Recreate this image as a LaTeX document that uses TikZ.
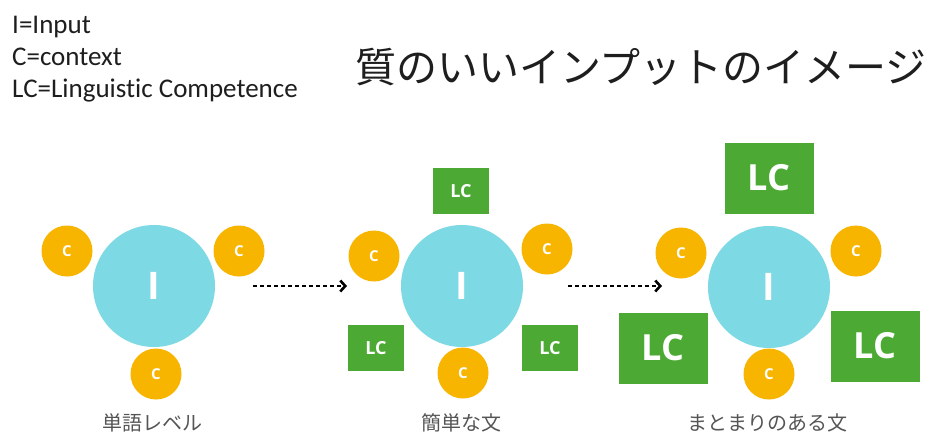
\documentclass[tikz,border=0pt]{standalone}
\usepackage{fontspec}
\setmainfont{Carlito}[Ligatures=NoCommon]
\newfontfamily\jpfont{Noto Sans CJK JP}
\newfontfamily\osans{Open Sans}
\usetikzlibrary{arrows.meta}
\definecolor{incyan}{HTML}{7DD9E4}
\definecolor{corange}{HTML}{F8B500}
\definecolor{lcgreen}{HTML}{4CAA34}
\definecolor{legendtxt}{HTML}{1E1E1E}
\definecolor{labgray}{HTML}{555555}
\tikzset{
  inputcirc/.style={circle, fill=incyan, minimum size=122pt, inner sep=0pt, text=white, font=\osans\bfseries\fontsize{38}{38}\selectfont},
  ctxcirc/.style={circle, fill=corange, minimum size=51pt, inner sep=0pt, text=white, font=\osans\bfseries\fontsize{15}{15}\selectfont},
  lcsmall/.style={rectangle, fill=lcgreen, minimum width=56pt, minimum height=46pt, inner sep=0pt, text=white, font=\osans\bfseries\fontsize{18}{18}\selectfont},
  lcbig/.style={rectangle, fill=lcgreen, minimum width=89pt, minimum height=71pt, inner sep=0pt, text=white, font=\osans\bfseries\fontsize{36}{36}\selectfont},
  legend/.style={anchor=base west, inner sep=0pt, text=legendtxt, font=\fontsize{27}{27}\selectfont},
  steplabel/.style={inner sep=0pt, text=labgray, font=\jpfont\fontsize{20}{20}\selectfont},
  flowarrow/.style={line width=2.8pt, dash pattern=on 3.5pt off 3.5pt, -{Straight Barb[length=5pt,width=11pt,line width=2.6pt]}}
}
\begin{document}
\begin{tikzpicture}[x=1pt,y=-1pt]
\path[use as bounding box, fill=white] (0,0) rectangle (934,434);

% legend
\node[legend] (legI) at (12,33) {I=Input};
\node[legend] (legC) at (12,65) {C=context};
\node[legend] (legLC) at (12,97) {LC=Linguistic Competence};

% title
\node[inner sep=0pt, text=legendtxt, font=\jpfont\fontsize{41}{41}\selectfont] (title) at (641,67) {質のいいインプットのイメージ};

% panel 1
\node[inputcirc] (i1) at (154,286) {I};
\node[ctxcirc] (c1a) at (67,251) {C};
\node[ctxcirc] (c1b) at (239,251) {C};
\node[ctxcirc] (c1c) at (156,374) {C};
\node[steplabel] (lab1) at (152,423) {単語レベル};

% panel 2
\node[inputcirc] (i2) at (462,286) {I};
\node[lcsmall] (lc2t) at (461,191) {LC};
\node[ctxcirc] (c2a) at (374,256) {C};
\node[ctxcirc] (c2b) at (547,249) {C};
\node[ctxcirc] (c2c) at (463,373) {C};
\node[lcsmall] (lc2l) at (376,348) {LC};
\node[lcsmall] (lc2r) at (550,348) {LC};
\node[steplabel] (lab2) at (461,423) {簡単な文};

% panel 3
\node[inputcirc] (i3) at (769,287) {I};
\node[lcbig] (lc3t) at (769,178) {LC};
\node[ctxcirc] (c3a) at (681,253) {C};
\node[ctxcirc] (c3b) at (856,251) {C};
\node[ctxcirc] (c3c) at (769,374) {C};
\node[lcbig] (lc3l) at (663,348) {LC};
\node[lcbig] (lc3r) at (875,346) {LC};
\node[steplabel] (lab3) at (767,423) {まとまりのある文};

% arrows
\coordinate (a1s) at (253,286);
\coordinate (a1e) at (347,286);
\coordinate (a2s) at (568,286);
\coordinate (a2e) at (662,286);
\draw[flowarrow] (a1s) -- (a1e);
\draw[flowarrow] (a2s) -- (a2e);
\end{tikzpicture}
\end{document}
